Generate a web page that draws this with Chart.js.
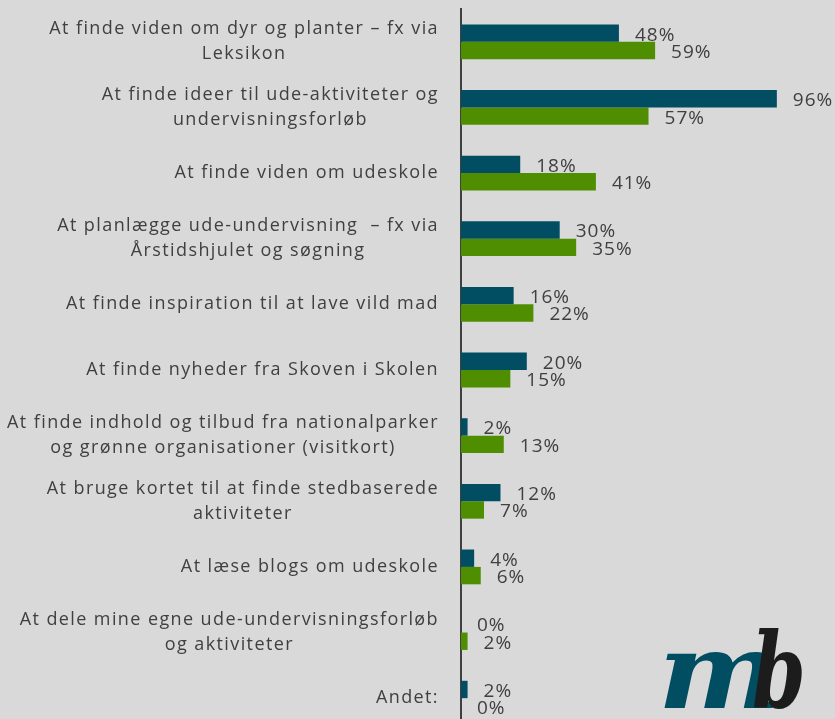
<!DOCTYPE html>
<html>
<head>
<meta charset="utf-8">
<script src="https://cdn.jsdelivr.net/npm/chart.js@4"></script>
<style>
  html, body { margin: 0; padding: 0; background: #d9d9d9; overflow: hidden; }
  #wrap { position: relative; width: 835px; height: 719px; }
  .logo { position: absolute; font-family: "DejaVu Serif", serif; font-style: italic; font-weight: bold; font-size: 104px; line-height: 1; transform-origin: left bottom; }
  #logoM { left: 658px; top: 620px; color: #014d62; transform: scaleX(1.12); }
  #logoB { left: 752px; top: 620px; color: #1c1c1c; transform: scaleX(0.74); }
</style>
</head>
<body>
<div id="wrap">
  <canvas id="chart" width="835" height="740"></canvas>
  <span class="logo" id="logoM">m</span><span class="logo" id="logoB">b</span>
</div>
<script>
// categories, top to bottom
const categories = [
  ['At finde viden om dyr og planter – fx via', 'Leksikon'],
  ['At finde ideer til ude-aktiviteter og', 'undervisningsforløb'],
  'At finde viden om udeskole',
  ['At planlægge ude-undervisning  – fx via', 'Årstidshjulet og søgning'],
  'At finde inspiration til at lave vild mad',
  'At finde nyheder fra Skoven i Skolen',
  ['At finde indhold og tilbud fra nationalparker', 'og grønne organisationer (visitkort)'],
  ['At bruge kortet til at finde stedbaserede', 'aktiviteter'],
  'At læse blogs om udeskole',
  ['At dele mine egne ude-undervisningsforløb', 'og aktiviteter'],
  'Andet:'
];
const darkValues = [48, 96, 18, 30, 16, 20, 2, 12, 4, 0, 2];
const greenValues = [59, 57, 41, 35, 22, 15, 13, 7, 6, 2, 0];

const textColor = '#404040';

// draws the category labels (centered block, right aligned) and the value labels
const labelPlugin = {
  id: 'labels',
  afterDraw(chart) {
    const ctx = chart.ctx;
    const yScale = chart.scales.y;
    ctx.save();
    ctx.font = '18px "Open Sans"';
    ctx.letterSpacing = '1.4px';
    ctx.fillStyle = textColor;
    ctx.textBaseline = 'middle';

    const rightEdge = yScale.right - 22;
    categories.forEach((lab, i) => {
      const lines = Array.isArray(lab) ? lab : [lab];
      const y = yScale.getPixelForValue(i);
      const maxW = Math.max(...lines.map(l => ctx.measureText(l).width));
      const cx = rightEdge - maxW / 2;
      ctx.textAlign = 'center';
      lines.forEach((l, k) => {
        ctx.fillText(l, cx, y + (k - (lines.length - 1) / 2) * 25);
      });
    });

    ctx.font = '19px "Open Sans"';
    ctx.letterSpacing = '1px';
    ctx.textAlign = 'left';
    chart.data.datasets.forEach((ds, d) => {
      const meta = chart.getDatasetMeta(d);
      meta.data.forEach((bar, i) => {
        ctx.fillText(ds.data[i] + '%', bar.x + 16, bar.y + 2);
      });
    });
    ctx.restore();
  }
};

new Chart(document.getElementById('chart'), {
  type: 'bar',
  data: {
    labels: categories,
    datasets: [
      { label: 'dark', data: darkValues, backgroundColor: '#014d62', categoryPercentage: 0.53, barPercentage: 1 },
      { label: 'green', data: greenValues, backgroundColor: '#4e8e00', categoryPercentage: 0.53, barPercentage: 1 }
    ]
  },
  options: {
    indexAxis: 'y',
    responsive: false,
    devicePixelRatio: 1,
    animation: false,
    layout: { padding: { top: 9, bottom: 9, left: 0, right: 45 } },
    plugins: { legend: { display: false }, tooltip: { enabled: false } },
    scales: {
      x: { display: false, min: 0, max: 100 },
      y: {
        grid: { display: false },
        border: { display: true, color: textColor, width: 2 },
        ticks: { display: false },
        afterFit(scale) { scale.width = 461; }
      }
    }
  },
  plugins: [labelPlugin]
});
</script>
</body>
</html>
